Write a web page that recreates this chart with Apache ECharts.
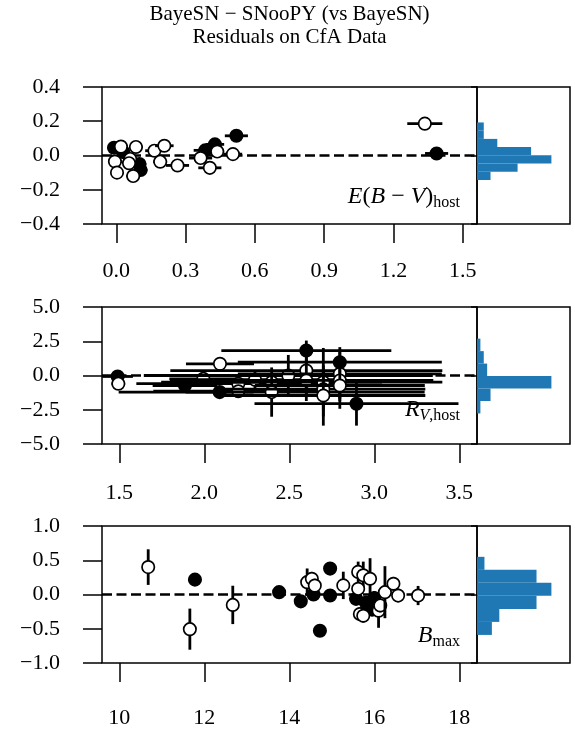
<!DOCTYPE html>
<html>
<head>
<meta charset="utf-8">
<title>BayeSN − SNooPY residuals on CfA data</title>
<script src="https://cdn.jsdelivr.net/npm/echarts@6.0.0/dist/echarts.min.js"></script>
<style>
  html, body { margin: 0; padding: 0; background: #fff; }
  #chart { width: 575px; height: 730px; }
</style>
</head>
<body>
<div id="chart"></div>
<script>
// each point: [x, residual, x error, residual error]
var ebvFilled = [
  [-0.01, 0.045, 0.02, 0.01], [0.03, 0.02, 0.02, 0.01], [0.10, -0.05, 0.03, 0.01],
  [0.105, -0.085, 0.03, 0.01], [0.385, 0.03, 0.05, 0.01], [0.427, 0.065, 0.04, 0.01],
  [0.52, 0.115, 0.05, 0.01], [1.387, 0.012, 0.05, 0.01]
];
var ebvOpen = [
  [0.02, 0.052, 0.03, 0.01], [0.085, 0.05, 0.03, 0.01], [-0.006, -0.035, 0.03, 0.01],
  [0.06, -0.02, 0.03, 0.01], [0.055, -0.045, 0.02, 0.01], [0.003, -0.10, 0.02, 0.01],
  [0.073, -0.12, 0.03, 0.01], [0.165, 0.028, 0.04, 0.01], [0.208, 0.057, 0.04, 0.01],
  [0.19, -0.036, 0.03, 0.01], [0.265, -0.058, 0.05, 0.01], [0.365, -0.015, 0.05, 0.01],
  [0.437, 0.023, 0.03, 0.01], [0.405, -0.072, 0.05, 0.01], [0.505, 0.008, 0.04, 0.01],
  [1.336, 0.186, 0.076, 0.01]
];
var ebvXTicks = [0, 0.3, 0.6, 0.9, 1.2, 1.5];
var ebvHistEdges = [-0.143, -0.095, -0.047, 0.001, 0.049, 0.097, 0.145, 0.193];
var ebvHistCounts = [2, 6, 11, 8, 3, 1, 1];

var rvFilled = [
  [1.49, -0.07, 0.09, 0.3], [1.886, -0.73, 0.19, 0.3], [2.09, -1.21, 0.2, 0.4],
  [2.6, 1.82, 0.5, 0.73], [2.797, 0.97, 0.6, 1.1], [2.895, -2.06, 0.6, 1.6]
];
var rvOpen = [
  [1.494, -0.6, 0.04, 0.3], [1.994, -0.24, 0.2, 0.3], [2.092, 0.85, 0.2, 0.3],
  [2.2, -0.6, 0.6, 0.4], [2.2, -1.15, 0.5, 0.4], [2.298, -0.31, 0.5, 0.7],
  [2.396, -0.49, 0.65, 0.5], [2.396, -1.21, 0.9, 1.8], [2.494, 0.0, 0.85, 1.5],
  [2.6, 0.36, 0.8, 1.7], [2.6, -0.36, 0.7, 1.5], [2.7, -0.49, 0.7, 2.5],
  [2.7, -1.0, 0.6, 1.5], [2.7, -1.46, 0.6, 2.2], [2.797, 0.12, 0.6, 1.8],
  [2.797, -0.36, 0.55, 1.5], [2.797, -0.73, 0.5, 1.7]
];
var rvXTicks = [1.5, 2.0, 2.5, 3.0, 3.5];
var rvHistEdges = [-2.77, -1.86, -0.95, -0.04, 0.87, 1.78, 2.69];
var rvHistCounts = [1, 4, 22, 3, 2, 1];

var bmaxFilled = [
  [11.78, 0.217, 0, 0.03], [13.76, 0.034, 0, 0.03], [14.27, -0.10, 0, 0.03],
  [14.57, 0.0, 0, 0.05], [14.72, -0.53, 0, 0.03], [14.96, 0.378, 0, 0.03],
  [14.96, -0.015, 0, 0.03], [15.57, -0.063, 0, 0.1], [15.8, -0.12, 0, 0.1],
  [15.9, -0.16, 0, 0.1], [16.0, -0.05, 0, 0.1], [15.95, -0.22, 0, 0.1]
];
var bmaxOpen = [
  [10.68, 0.40, 0, 0.26], [11.66, -0.506, 0, 0.3], [12.67, -0.152, 0, 0.28],
  [14.42, 0.18, 0, 0.2], [14.53, 0.23, 0, 0.1], [14.6, 0.13, 0, 0.1],
  [15.27, 0.133, 0, 0.2], [15.62, 0.33, 0, 0.15], [15.74, 0.28, 0, 0.2],
  [15.9, 0.23, 0, 0.3], [15.62, 0.083, 0, 0.1], [15.66, -0.285, 0, 0.1],
  [15.74, -0.31, 0, 0.1], [16.1, -0.236, 0, 0.25], [16.14, -0.16, 0, 0.1],
  [16.25, 0.034, 0, 0.38], [16.45, 0.157, 0, 0.1], [16.56, -0.015, 0, 0.1],
  [17.03, -0.015, 0, 0.14]
];
var bmaxXTicks = [10, 12, 14, 16, 18];
var bmaxHistEdges = [-0.59, -0.40, -0.21, -0.02, 0.17, 0.36, 0.55];
var bmaxHistCounts = [2, 3, 8, 10, 8, 1];

var panels = [
  { filled: ebvFilled, open: ebvOpen, xMin: -0.062, xMax: 1.562, xTicks: ebvXTicks, xDigits: 1,
    yMin: -0.4, yMax: 0.4, yStep: 0.2, edges: ebvHistEdges, counts: ebvHistCounts },
  { filled: rvFilled, open: rvOpen, xMin: 1.398, xMax: 3.604, xTicks: rvXTicks, xDigits: 1,
    yMin: -5, yMax: 5, yStep: 2.5, edges: rvHistEdges, counts: rvHistCounts },
  { filled: bmaxFilled, open: bmaxOpen, xMin: 9.593, xMax: 18.416, xTicks: bmaxXTicks, xDigits: 0,
    yMin: -1, yMax: 1, yStep: 0.5, edges: bmaxHistEdges, counts: bmaxHistCounts }
];
var panelTops = [87, 307, 526];
var xLabelMargins = [36, 38, 44];

var FONT = 'Liberation Serif';

function fmt(v, digits) {
  var s = Math.abs(v).toFixed(digits);
  return v < -1e-9 ? '\u2212' + s : s;
}

// error bars plus marker, drawn point by point like repeated errorbar calls
function pointRenderer(fill) {
  return function (params, api) {
    var x = api.value(0), y = api.value(1), ex = api.value(2), ey = api.value(3);
    var c = api.coord([x, y]);
    var l = api.coord([x - ex, y]), r = api.coord([x + ex, y]);
    var t = api.coord([x, y + ey]), b = api.coord([x, y - ey]);
    var bar = { stroke: '#000', lineWidth: 2.8 };
    return {
      type: 'group',
      children: [
        { type: 'line', shape: { x1: l[0], y1: c[1], x2: r[0], y2: c[1] }, style: bar },
        { type: 'line', shape: { x1: c[0], y1: t[1], x2: c[0], y2: b[1] }, style: bar },
        { type: 'circle', shape: { cx: c[0], cy: c[1], r: 6.2 },
          style: { fill: fill, stroke: '#000', lineWidth: 1.7 } }
      ]
    };
  };
}

function histRender(params, api) {
  var p0 = api.coord([0, api.value(1)]);
  var p1 = api.coord([api.value(2), api.value(0)]);
  return {
    type: 'rect',
    shape: { x: p0[0], y: p0[1], width: p1[0] - p0[0], height: p1[1] - p0[1] },
    style: { fill: '#1f77b4' }
  };
}

var grid = [], xAxis = [], yAxis = [], series = [];
var tickStyle = { color: '#000', width: 1.5 };

panels.forEach(function (p, i) {
  var top = panelTops[i];
  var gMain = 2 * i, gHist = 2 * i + 1;
  grid.push({ left: 102, top: top, width: 375, height: 137, show: true, borderColor: '#000',
    borderWidth: 1.5, backgroundColor: '#fff', containLabel: false, outerBoundsMode: 'none' });
  grid.push({ left: 477, top: top, width: 93, height: 137, show: true, borderColor: '#000',
    borderWidth: 1.5, backgroundColor: 'transparent', containLabel: false, outerBoundsMode: 'none' });

  xAxis.push({
    type: 'value', gridIndex: gMain, position: 'bottom', min: p.xMin, max: p.xMax,
    splitLine: { show: false }, axisLine: { show: false, onZero: false },
    axisTick: { show: true, inside: false, length: 19, lineStyle: tickStyle, customValues: p.xTicks },
    axisLabel: { customValues: p.xTicks, margin: xLabelMargins[i], color: '#000', fontFamily: FONT,
      fontSize: 22, formatter: function (v) { return fmt(v, p.xDigits); } }
  });
  xAxis.push({ type: 'value', gridIndex: gHist, min: 0,
    max: Math.max.apply(null, p.counts) * 1.25, show: false, axisLine: { onZero: false } });

  yAxis.push({
    type: 'value', gridIndex: gMain, position: 'left', min: p.yMin, max: p.yMax, interval: p.yStep,
    splitLine: { show: false }, axisLine: { show: false, onZero: false },
    axisTick: { show: true, inside: false, length: 19, lineStyle: tickStyle },
    axisLabel: { margin: 42, color: '#000', fontFamily: FONT, fontSize: 22,
      formatter: function (v) { return fmt(v, 1); } }
  });
  yAxis.push({
    type: 'value', gridIndex: gHist, position: 'left', min: p.yMin, max: p.yMax, interval: p.yMax,
    splitLine: { show: false }, axisLine: { show: false, onZero: false },
    axisTick: { show: true, inside: false, length: 6, lineStyle: tickStyle },
    axisLabel: { show: false }
  });

  // dashed zero line
  series.push({
    type: 'line', xAxisIndex: gMain, yAxisIndex: gMain, data: [], silent: true, z: 1,
    markLine: { silent: true, z: 1, animation: false, symbol: ['none', 'none'], label: { show: false },
      lineStyle: { color: '#000', width: 2.5, type: [10, 4.5] }, data: [{ yAxis: 0 }] }
  });
  series.push({ type: 'custom', xAxisIndex: gMain, yAxisIndex: gMain, clip: true, z: 2,
    renderItem: pointRenderer('#000'), data: p.filled, animation: false });
  series.push({ type: 'custom', xAxisIndex: gMain, yAxisIndex: gMain, clip: true, z: 3,
    renderItem: pointRenderer('#fff'), data: p.open, animation: false });

  var bins = [];
  for (var k = 0; k < p.counts.length; k++) {
    bins.push([p.edges[k], p.edges[k + 1], p.counts[k]]);
  }
  series.push({ type: 'custom', xAxisIndex: gHist, yAxisIndex: gHist, z: 2,
    renderItem: histRender, data: bins, animation: false });
});

var rich = {
  i: { fontFamily: FONT, fontStyle: 'italic', fontSize: 24, lineHeight: 28, color: '#000' },
  r: { fontFamily: FONT, fontSize: 24, lineHeight: 28, color: '#000' },
  s: { fontFamily: FONT, fontSize: 16, lineHeight: 14, verticalAlign: 'bottom', color: '#000' },
  si: { fontFamily: FONT, fontStyle: 'italic', fontSize: 16, lineHeight: 8, verticalAlign: 'bottom', color: '#000' },
  sd: { fontFamily: FONT, fontSize: 16, lineHeight: 8, verticalAlign: 'bottom', color: '#000' }
};

var chart = echarts.init(document.getElementById('chart'), null, { renderer: 'canvas' });
chart.setOption({
  animation: false,
  backgroundColor: '#fff',
  grid: grid,
  xAxis: xAxis,
  yAxis: yAxis,
  series: series,
  graphic: [
    { type: 'text', x: 289.5, y: 3, silent: true,
      style: { text: 'BayeSN \u2212 SNooPY (vs BayeSN)\nResiduals on CfA Data', align: 'center',
        verticalAlign: 'top', fontFamily: FONT, fontSize: 21, lineHeight: 23, fill: '#000' } },
    { type: 'text', x: 460, y: 183, silent: true,
      style: { text: '{i|E}{r|(}{i|B}{r| \u2212 }{i|V}{r|)}{s|host}', rich: rich, align: 'right' } },
    { type: 'text', x: 460, y: 396, silent: true,
      style: { text: '{i|R}{si|V}{sd|,host}', rich: rich, align: 'right' } },
    { type: 'text', x: 460, y: 622, silent: true,
      style: { text: '{i|B}{s|max}', rich: rich, align: 'right' } }
  ]
});
</script>
</body>
</html>
